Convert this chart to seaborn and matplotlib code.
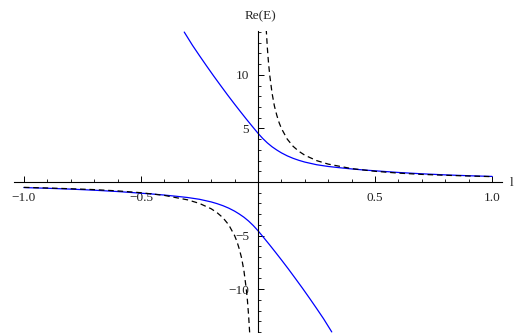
import numpy as np
import pandas as pd
import matplotlib
matplotlib.use("Agg")
import matplotlib.pyplot as plt
from matplotlib.ticker import MultipleLocator, FixedLocator
import seaborn as sns

# values
# blue curve, upper branch
blue_up_x = [-0.315, -0.28, -0.25, -0.22, -0.19, -0.16, -0.13, -0.1, -0.075, -0.05,
             -0.025, 0.0, 0.02, 0.04, 0.06, 0.08, 0.1, 0.125, 0.15, 0.175, 0.2,
             0.25, 0.3, 0.35, 0.4, 0.45, 0.5, 0.6, 0.7, 0.8, 0.9, 1.0]
blue_up_y = [14.0, 12.77, 11.8, 10.85, 9.92, 9.02, 8.13, 7.27, 6.57, 5.88,
             5.21, 4.55, 4.07, 3.65, 3.29, 2.99, 2.72, 2.44, 2.21, 2.02, 1.86,
             1.615, 1.45, 1.33, 1.22, 1.125, 1.045, 0.89, 0.765, 0.665, 0.585, 0.52]
# blue curve, lower branch
blue_lo_x = [-1.0, -0.9, -0.8, -0.7, -0.6, -0.5, -0.45, -0.4, -0.35, -0.3, -0.25,
             -0.2, -0.175, -0.15, -0.125, -0.1, -0.08, -0.06, -0.04, -0.02, 0.0,
             0.025, 0.05, 0.075, 0.1, 0.13, 0.16, 0.19, 0.22, 0.25, 0.28, 0.315]
blue_lo_y = [-0.52, -0.585, -0.665, -0.765, -0.89, -1.045, -1.125, -1.22, -1.33, -1.45, -1.615,
             -1.86, -2.02, -2.21, -2.44, -2.72, -2.99, -3.29, -3.65, -4.07, -4.55,
             -5.21, -5.88, -6.57, -7.27, -8.13, -9.02, -9.92, -10.85, -11.8, -12.77, -14.0]
# dashed curve, both branches
dash_up_x = [0.035, 0.04, 0.045, 0.05, 0.06, 0.07, 0.08, 0.09, 0.1, 0.125, 0.15, 0.175,
             0.2, 0.25, 0.3, 0.4, 0.5, 0.6, 0.7, 0.8, 0.9, 1.0]
dash_up_y = [14.3, 12.5, 11.1, 10.0, 8.3, 7.1, 6.25, 5.55, 5.0, 4.0, 3.33, 2.86,
             2.5, 2.0, 1.67, 1.25, 1.0, 0.83, 0.71, 0.63, 0.56, 0.5]
dash_lo_x = [-1.0, -0.9, -0.8, -0.7, -0.6, -0.5, -0.4, -0.3, -0.25, -0.2, -0.175, -0.15,
             -0.125, -0.1, -0.09, -0.08, -0.07, -0.06, -0.05, -0.045, -0.04, -0.035]
dash_lo_y = [-0.5, -0.56, -0.63, -0.71, -0.83, -1.0, -1.25, -1.67, -2.0, -2.5, -2.86, -3.33,
             -4.0, -5.0, -5.55, -6.25, -7.1, -8.3, -10.0, -11.1, -12.5, -14.3]

x_ticks = [-1.0, -0.5, 0.5, 1.0]
x_tick_labels = ["\u22121.0", "\u22120.5", "0.5", "1.0"]
y_ticks = [-10, -5, 5, 10]
y_tick_labels = ["\u221210", "\u22125", "5", "10"]

sns.set_theme(style="white")
plt.rcParams['font.family'] = ['Liberation Serif', 'DejaVu Serif']

fig = plt.figure(figsize=(5.14, 3.33), dpi=100)
ax = fig.add_axes([14 / 514, 0.0, 488 / 514, 302 / 333])
ax.set_facecolor('white')

sns.lineplot(x=blue_up_x, y=blue_up_y, ax=ax, color='#0000ff', lw=0.9,
             sort=False, estimator=None)
sns.lineplot(x=blue_lo_x, y=blue_lo_y, ax=ax, color='#0000ff', lw=0.9,
             sort=False, estimator=None)
sns.lineplot(x=dash_up_x, y=dash_up_y, ax=ax, color='black', lw=0.9,
             linestyle=(0, (4.5, 3)), sort=False, estimator=None)
sns.lineplot(x=dash_lo_x, y=dash_lo_y, ax=ax, color='black', lw=0.9,
             linestyle=(0, (4.5, 3)), sort=False, estimator=None)

ax.set_xlim(-1.042, 1.042)
ax.set_ylim(-14.1, 14.1)

# axes crossing at the origin
for s in ['top', 'right']:
    ax.spines[s].set_visible(False)
ax.spines['left'].set_position(('data', 0))
ax.spines['bottom'].set_position(('data', 0))
for s in ['left', 'bottom']:
    ax.spines[s].set_color('black')
    ax.spines[s].set_linewidth(0.8)

ax.xaxis.set_major_locator(FixedLocator(x_ticks))
ax.xaxis.set_minor_locator(MultipleLocator(0.1))
ax.set_xticklabels(x_tick_labels)
ax.yaxis.set_major_locator(FixedLocator(y_ticks))
ax.yaxis.set_minor_locator(MultipleLocator(1))
ax.set_yticklabels(y_tick_labels)

ax.tick_params(axis='both', which='major', direction='in', length=4.2, width=0.7,
               color='black', labelsize=9.5, labelcolor='#222222')
ax.tick_params(axis='both', which='minor', direction='in', length=2.3, width=0.6,
               color='black')
ax.tick_params(axis='x', which='both', bottom=True, pad=7)
ax.tick_params(axis='y', which='both', left=True, pad=6.5)
ax.set_xlabel('')
ax.set_ylabel('')

fig.text(512 / 514, 1 - 183 / 333, 'l', ha='center', va='center', fontsize=9.5)
fig.text(260 / 514, 1 - 16 / 333, 'Re(E)', ha='center', va='center', fontsize=9.5)

fig.savefig('out.png', dpi=100, facecolor='white')
